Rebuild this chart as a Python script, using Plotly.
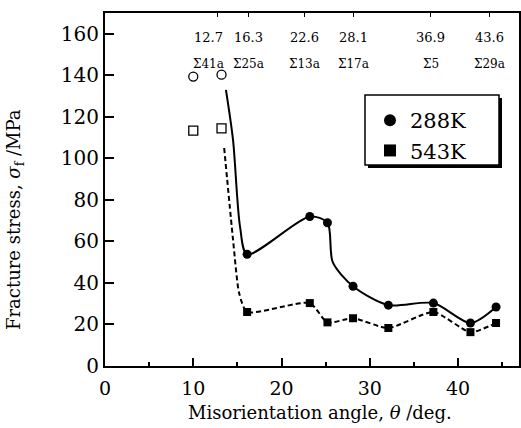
import plotly.graph_objects as go

# --- data ---
angle_288 = [16.1, 23.2, 25.2, 28.1, 32.1, 37.2, 41.4, 44.3]
stress_288 = [53.8, 72.0, 69.0, 38.4, 29.3, 30.3, 20.7, 28.4]
angle_543 = [16.1, 23.2, 25.2, 28.1, 32.1, 37.2, 41.4, 44.3]
stress_543 = [26.0, 30.3, 21.0, 23.0, 18.3, 26.0, 16.3, 20.7]

# curve guide points (line only, no marker)
curve_288_x = [13.7, 14.5, 15.3, 16.1, 23.2, 25.2, 25.8, 28.1, 32.1, 37.2, 41.4, 44.3]
curve_288_y = [133.0, 109.0, 67.0, 53.8, 72.0, 69.0, 50.0, 38.4, 29.3, 30.3, 20.7, 28.4]
curve_543_x = [13.5, 14.5, 15.2, 16.1, 23.2, 25.2, 28.1, 32.1, 37.2, 41.4, 44.3]
curve_543_y = [105.0, 61.0, 35.0, 26.0, 30.3, 21.0, 23.0, 18.3, 26.0, 16.3, 20.7]

# open symbols
open_angle = [10.0, 13.2]
open_circle = [139.4, 140.3]
open_square = [113.4, 114.4]

# top annotations: special CSL boundaries
csl_angle = [12.7, 16.3, 22.6, 28.1, 36.9, 43.6]
csl_angle_text = ["12.7", "16.3", "22.6", "28.1", "36.9", "43.6"]
csl_sigma = ["Σ41a", "Σ25a", "Σ13a", "Σ17a", "Σ5", "Σ29a"]

FONT = "DejaVu Serif"

L, R, T, B = 105, 2, 13, 62
W, H = 521, 428
PW, PH = W - L - R, H - T - B


def px2paper(x, y):
    return (x - L) / PW, (H - B - y) / PH


fig = go.Figure()

fig.add_trace(go.Scatter(
    x=curve_288_x, y=curve_288_y,
    mode="lines", line=dict(color="black", width=2, shape="spline", smoothing=0.8),
    showlegend=False, hoverinfo="skip"))
fig.add_trace(go.Scatter(
    x=curve_543_x, y=curve_543_y,
    mode="lines", line=dict(color="black", width=2, dash="5px,3px", shape="spline", smoothing=0.6),
    showlegend=False, hoverinfo="skip"))

fig.add_trace(go.Scatter(
    x=angle_288, y=stress_288, mode="markers", name="288K",
    marker=dict(symbol="circle", size=9, color="black")))
fig.add_trace(go.Scatter(
    x=angle_543, y=stress_543, mode="markers", name="543K",
    marker=dict(symbol="square", size=8, color="black")))

fig.add_trace(go.Scatter(
    x=open_angle, y=open_circle, mode="markers", showlegend=False,
    marker=dict(symbol="circle-open", size=9, color="black", line=dict(width=1.3))))
fig.add_trace(go.Scatter(
    x=open_angle, y=open_square, mode="markers", showlegend=False,
    marker=dict(symbol="square-open", size=9, color="black", line=dict(width=1.3))))

fig.add_trace(go.Scatter(x=[None], y=[None], xaxis="x2", showlegend=False, hoverinfo="skip"))

annotations = []
for i, (a, t, s) in enumerate(zip(csl_angle, csl_angle_text, csl_sigma)):
    shift = -9 if i == 0 else 0
    annotations.append(dict(x=a, y=158, xref="x", yref="y", text=t, showarrow=False,
                            xshift=shift, font=dict(family=FONT, size=13, color="black")))
    annotations.append(dict(x=a, y=145.5, xref="x", yref="y", text=s, showarrow=False,
                            xshift=shift, font=dict(family=FONT, size=12, color="black")))

yx, yy = px2paper(15, 220)
annotations.append(dict(
    x=yx, y=yy, xref="paper", yref="paper", xanchor="center", yanchor="middle",
    textangle=-90, showarrow=False,
    text="Fracture stress, <i>σ</i><sub>f</sub> /MPa",
    font=dict(family=FONT, size=18, color="black")))
tx, ty = px2paper(320, 412)
annotations.append(dict(
    x=tx, y=ty, xref="paper", yref="paper", xanchor="center", yanchor="middle",
    showarrow=False, text="Misorientation angle, <i>θ</i> /deg.",
    font=dict(family=FONT, size=18, color="black")))

lx, ly = px2paper(370, 100)
fig.update_layout(
    width=W, height=H,
    margin=dict(l=L, r=R, t=T, b=B, autoexpand=False),
    paper_bgcolor="white", plot_bgcolor="white",
    font=dict(family=FONT, color="black"),
    xaxis=dict(range=[0, 46.9], tickvals=[0, 10, 20, 30, 40], ticks="inside",
               ticklen=8, tickwidth=2, tickcolor="black",
               minor=dict(dtick=5, ticks="inside", ticklen=4, tickwidth=1.5, tickcolor="black"),
               showline=True, linewidth=2, linecolor="black", mirror=True,
               showgrid=False, zeroline=False, automargin=False,
               tickfont=dict(family=FONT, size=19),
               ticklabelstandoff=4),
    xaxis2=dict(overlaying="x", side="top", matches="x", range=[0, 46.9],
                tickvals=csl_angle, ticks="inside", ticklen=4, tickwidth=1,
                tickcolor="black", showticklabels=False, showline=False,
                showgrid=False, zeroline=False, automargin=False),
    yaxis=dict(range=[0, 170], tickvals=[0, 20, 40, 60, 80, 100, 120, 140, 160],
               ticks="inside", ticklen=9, tickwidth=2, tickcolor="black",
               showline=True, linewidth=2, linecolor="black", mirror=True,
               showgrid=False, zeroline=False, automargin=False,
               tickfont=dict(family=FONT, size=20)),
    legend=dict(x=lx, y=ly, xanchor="left", yanchor="top",
                bgcolor="rgba(0,0,0,0)", borderwidth=0,
                font=dict(family=FONT, size=21, color="black"),
                itemsizing="constant", tracegroupgap=0),
    annotations=annotations,
    showlegend=True,
)

# legend frame with drop shadow
sx0, sy1 = px2paper(368, 98)
sx1, sy0 = px2paper(502, 168)
fig.add_shape(type="rect", xref="paper", yref="paper",
              x0=sx0, x1=sx1, y0=sy0, y1=sy1,
              fillcolor="black", line=dict(width=0), layer="above")
bx0, by1 = px2paper(365, 95)
bx1, by0 = px2paper(499, 165)
fig.add_shape(type="rect", xref="paper", yref="paper",
              x0=bx0, x1=bx1, y0=by0, y1=by1,
              fillcolor="white", line=dict(width=1.5, color="black"), layer="above")

fig.write_html("out.html", config={"displayModeBar": False},
               post_script="document.body.style.margin='0';")
